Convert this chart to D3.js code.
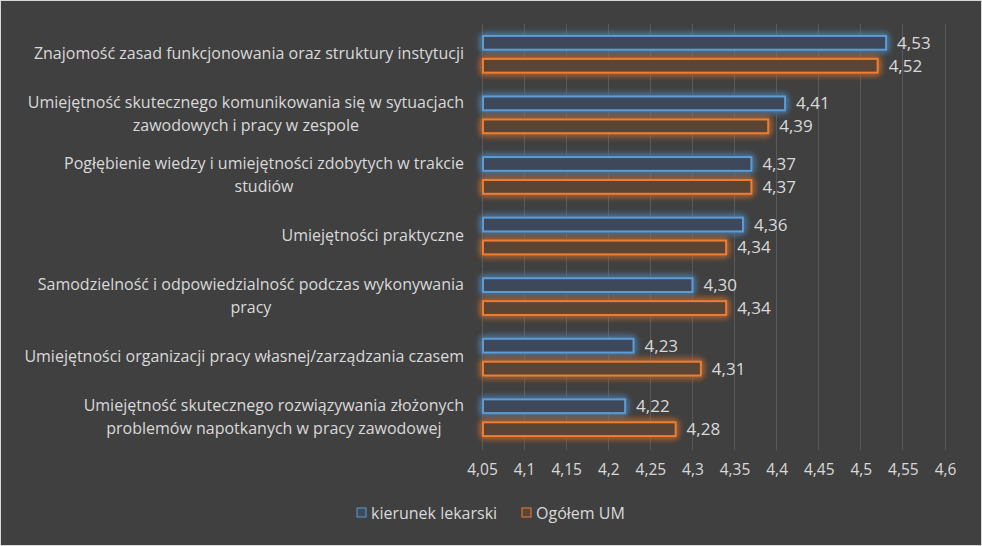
<!DOCTYPE html>
<html><head><meta charset="utf-8">
<script src="https://cdn.jsdelivr.net/npm/d3@7"></script>
<style>
html,body{margin:0;padding:0;background:#404040;}
svg{display:block;}
text{font-family:"Open Sans","Liberation Sans",sans-serif;}
</style></head>
<body>
<script>
const categories = [
  ["Znajomość zasad funkcjonowania oraz struktury instytucji"],
  ["Umiejętność skutecznego komunikowania się w sytuacjach","zawodowych i pracy w zespole"],
  ["Pogłębienie wiedzy i umiejętności zdobytych w trakcie","studiów"],
  ["Umiejętności praktyczne"],
  ["Samodzielność i odpowiedzialność podczas wykonywania","pracy"],
  ["Umiejętności organizacji pracy własnej/zarządzania czasem"],
  ["Umiejętność skutecznego rozwiązywania złożonych","problemów napotkanych w pracy zawodowej"]
];
const seriesNames = ["kierunek lekarski","Ogółem UM"];
const kierunek = [4.53,4.41,4.37,4.36,4.30,4.23,4.22];
const ogolem = [4.52,4.39,4.37,4.34,4.34,4.31,4.28];
const ticks = [4.05,4.1,4.15,4.2,4.25,4.3,4.35,4.4,4.45,4.5,4.55,4.6];
const colors = ["#5b9bd5","#ed7d31"];
const fills = ["#3d4a5a","#5a4536"];

const W=982,H=546;
const svg=d3.select("body").append("svg").attr("width",W).attr("height",H);
svg.append("rect").attr("x",0.5).attr("y",0.5).attr("width",W-1).attr("height",H-1)
  .attr("fill","#404040").attr("stroke","#d9d9d9").attr("stroke-width",1);

const defs=svg.append("defs");
colors.forEach((c,i)=>{
  const f=defs.append("filter").attr("id","glow"+i).attr("x","-20%").attr("y","-100%").attr("width","140%").attr("height","300%");
  f.append("feGaussianBlur").attr("in","SourceGraphic").attr("stdDeviation",3.5).attr("result","b");
  const m=f.append("feMerge");
  m.append("feMergeNode").attr("in","b");
  m.append("feMergeNode").attr("in","b");
  m.append("feMergeNode").attr("in","SourceGraphic");
});

const x=d3.scaleLinear().domain([4.05,4.6]).range([482,945]);
const y=d3.scaleBand().domain(d3.range(categories.length)).range([24,448]);
const yi=d3.scaleBand().domain([0,1]).range([0,y.bandwidth()]).paddingInner(0.4).paddingOuter(0.52);

// gridlines
svg.append("g").selectAll("line").data(ticks).join("line")
  .attr("x1",d=>x(d)).attr("x2",d=>x(d)).attr("y1",24).attr("y2",450)
  .attr("stroke","#595959").attr("stroke-width",1).attr("shape-rendering","crispEdges");

// x axis labels
const xa=d3.axisBottom(x).tickValues(ticks).tickSize(0).tickPadding(16)
  .tickFormat(d=>String(d).replace(".",","));
const gx=svg.append("g").attr("transform","translate(0,448)").call(xa);
gx.select(".domain").remove();
gx.selectAll("text").attr("fill","#d9d9d9").attr("font-size",15.5).attr("font-family","'Open Sans',sans-serif");

// category labels (multi-line centred block, right edge at 463)
const gl=svg.append("g");
categories.forEach((lines,i)=>{
  const cy=y(i)+y.bandwidth()/2;
  const lh=23;
  const tmp=[];
  lines.forEach((l,j)=>{
    tmp.push(gl.append("text").attr("fill","#d9d9d9").attr("font-size",16)
      .attr("y",cy+(j-(lines.length-1)/2)*lh+5).text(l));
  });
  const maxW=d3.max(tmp,t=>t.node().getComputedTextLength());
  const cx=464-maxW/2;
  tmp.forEach(t=>t.attr("x",cx).attr("text-anchor","middle"));
});

// bars
[kierunek,ogolem].forEach((vals,s)=>{
  const g=svg.append("g");
  g.selectAll("rect").data(vals).join("rect")
    .attr("x",x(4.05)+1).attr("y",(d,i)=>y(i)+yi(s))
    .attr("width",d=>x(d)-x(4.05)-1).attr("height",yi.bandwidth())
    .attr("fill",fills[s]).attr("stroke",colors[s]).attr("stroke-width",2)
    .attr("filter","url(#glow"+s+")");
  g.selectAll("text").data(vals).join("text")
    .attr("x",d=>x(d)+11).attr("y",(d,i)=>y(i)+yi(s)+yi.bandwidth()/2+6)
    .attr("fill","#d9d9d9").attr("font-size",17)
    .text(d=>d.toFixed(2).replace(".",","));
});

// legend
const leg=svg.append("g");
const lx=[357,522];
seriesNames.forEach((n,i)=>{
  leg.append("rect").attr("x",lx[i]).attr("y",508).attr("width",9).attr("height",9)
    .attr("fill",fills[i]).attr("stroke",colors[i]).attr("stroke-width",1);
  leg.append("text").attr("x",lx[i]+14).attr("y",519).attr("fill","#d9d9d9").attr("font-size",16).text(n);
});
</script>
</body></html>
